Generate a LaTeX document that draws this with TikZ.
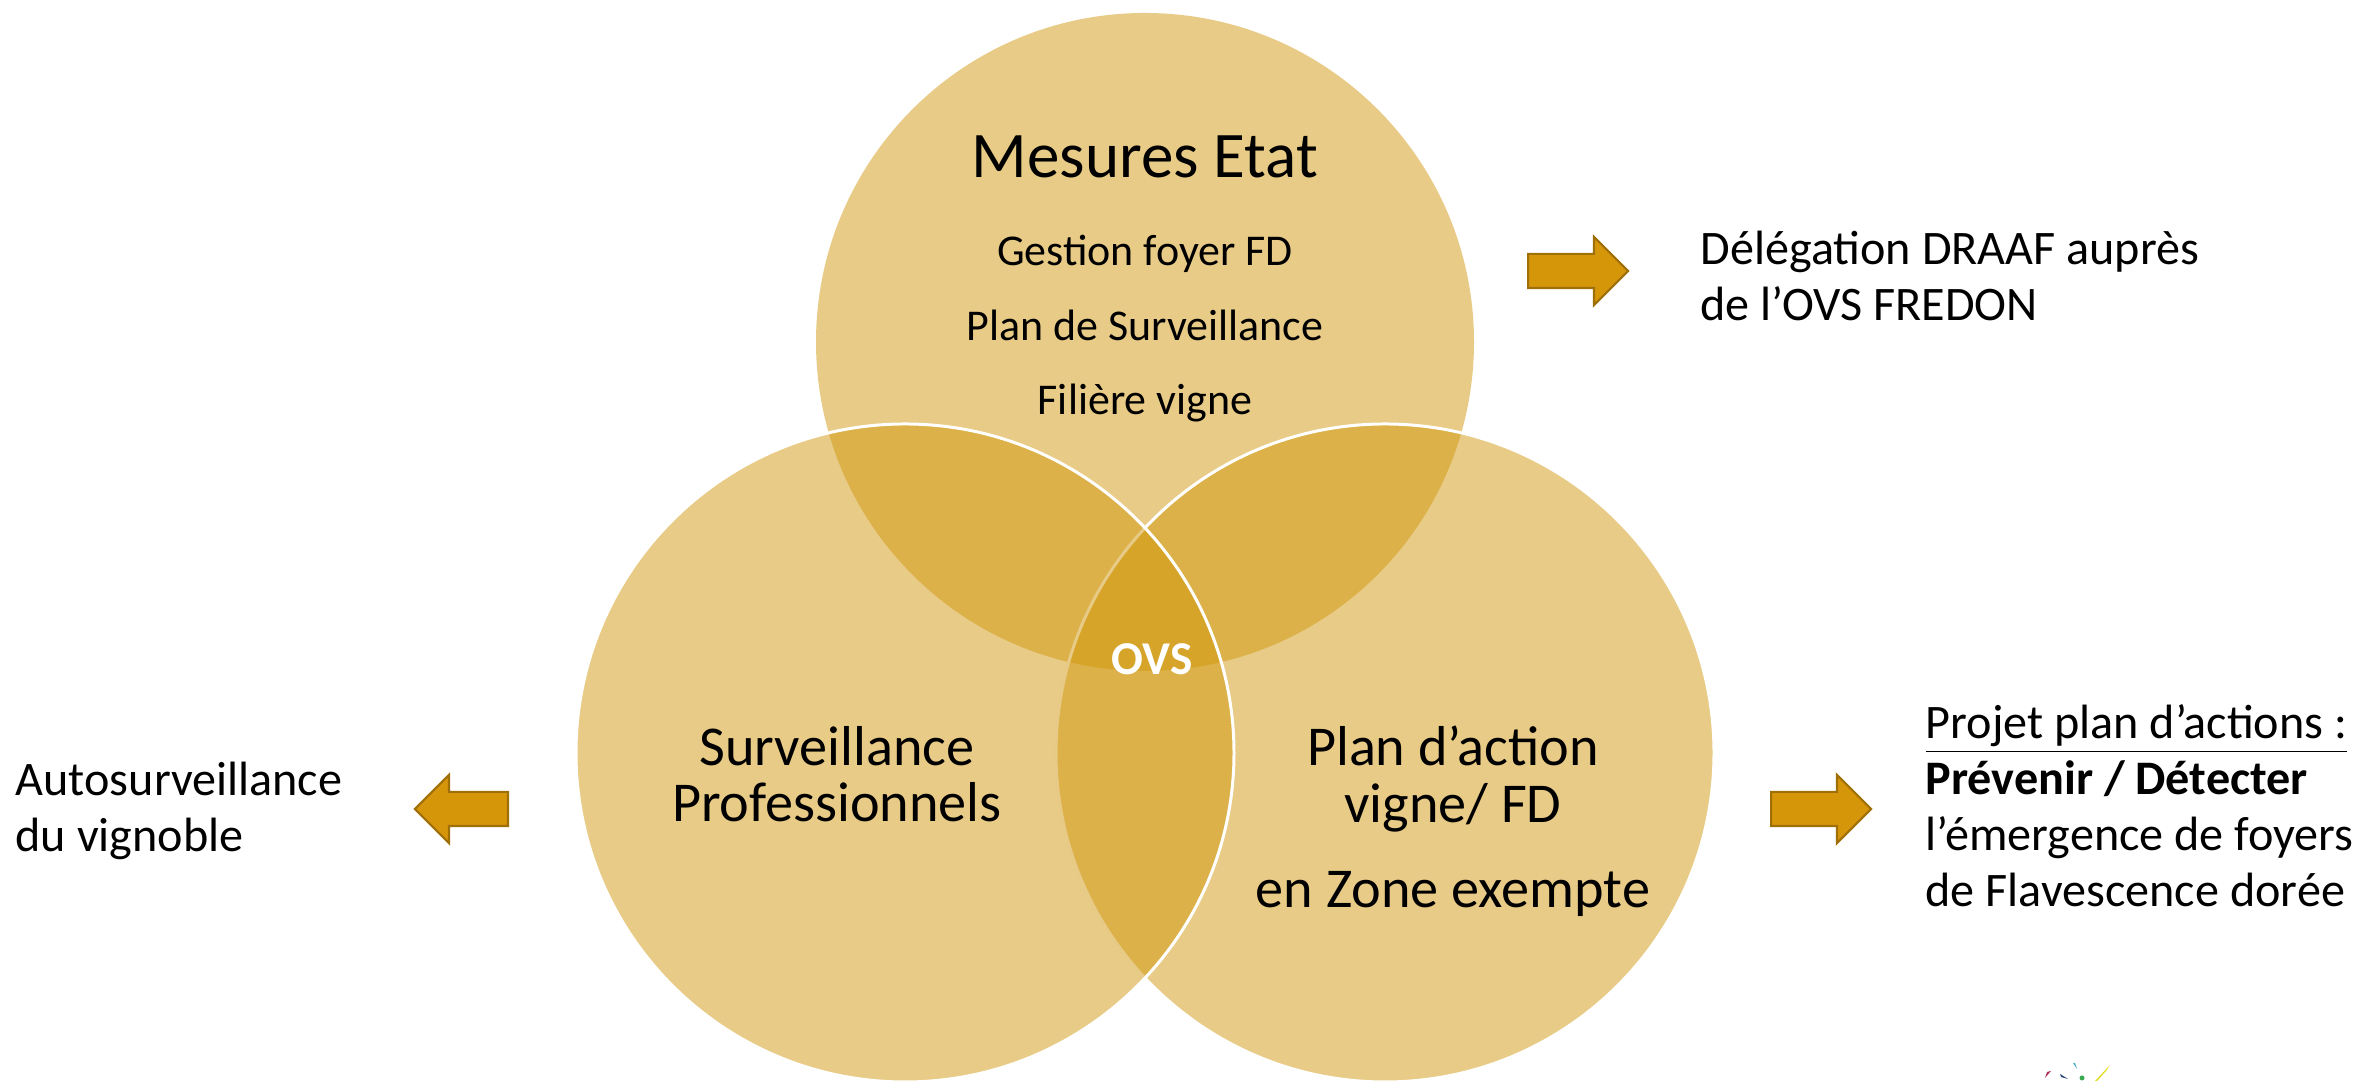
\documentclass[tikz,border=0pt]{standalone}
\usepackage{fontspec}
\setmainfont{Carlito}
\usetikzlibrary{shapes.arrows}

\definecolor{ovsgold}{RGB}{209,151,13}
\definecolor{arrowfill}{RGB}{214,150,10}
\definecolor{arrowdraw}{RGB}{160,112,8}

\begin{document}
\begin{tikzpicture}[
    zone/.style={circle, minimum size=6.58cm, inner sep=0pt, fill=ovsgold, fill opacity=0.5},
    rim/.style={draw=white, line width=0.85pt},
    title/.style={anchor=base, font=\fontsize{18.5}{22}\selectfont},
    body/.style={anchor=base, align=center, font=\fontsize{12.5}{21.3}\selectfont},
    inside/.style={anchor=base, align=center, font=\fontsize{16}{16.2}\selectfont},
    side/.style={anchor=base west, align=left, inner sep=0pt, font=\fontsize{13.7}{16}\selectfont},
    blockarrow/.style={single arrow, single arrow head extend=0.17cm, inner sep=0.16cm, minimum height=1cm, fill=arrowfill, draw=arrowdraw, line width=0.6pt}
    ]
    \useasboundingbox (0,0) rectangle (23.69,10.81);

    % Circles
    \begin{scope}
    \clip (0,0) rectangle (23.69,10.81);
    \node (cEtat) [zone] at (11.45,7.39) {};
    \node (cZone) [zone, rim] at (13.85,3.28) {};
    \node (cPro) [zone, rim] at (9.05,3.28) {};
    \end{scope}

    % Circle texts (multi-line nodes sit on their last line)
    \node (etat) [title] at (11.45,9.03) {Mesures Etat};
    \node (etatlist) [body] at (11.45,6.66) {Gestion foyer FD\\Plan de Surveillance\\Filière vigne};
    \node (pro) [inside] at (8.37,2.59) {Surveillance\\Professionnels};
    \node (zone) [inside] at (14.53,1.73) {Plan d’action\\vigne/ FD\\[0.29cm]en Zone exempte};
    \node (ovs) [anchor=base, text=white, font=\fontsize{13.4}{16}\selectfont\bfseries] at (11.52,4.06) {OVS};

    % Block arrows
    \node (toDraaf) [blockarrow, anchor=tail] at (15.27,8.10) {};
    \node (toAuto) [blockarrow, shape border rotate=180, minimum height=0.93cm, anchor=tail] at (5.09,2.72) {};
    \node (toProjet) [blockarrow, anchor=tail] at (17.70,2.72) {};

    % Side texts
    \node (draaf) [side] at (17.00,7.60) {Délégation DRAAF auprès\\de l’OVS FREDON};
    \node (auto) [side] at (0.15,2.29) {Autosurveillance\\du vignoble};
    \node (projet) [side] at (19.25,1.74) {\underline{Projet plan d’actions :}\\\textbf{Prévenir / Détecter}\\l’émergence de foyers\\de Flavescence dorée};

    % Logo corner
    \fill[fill={rgb,255:red,170;green,50;blue,90}] (20.45,0.03) -- (20.47,0.09) -- (20.51,0.10) -- cycle;
    \fill[fill={rgb,255:red,40;green,70;blue,120}] (20.60,0.07) -- (20.68,0.02) -- (20.61,0.04) -- cycle;
    \fill[fill={rgb,255:red,70;green,170;blue,200}] (20.73,0.18) -- (20.77,0.12) -- (20.75,0.18) -- cycle;
    \fill[fill={rgb,255:red,60;green,170;blue,80}] (20.82,0.03) circle (0.025);
    \fill[fill={rgb,255:red,225;green,220;blue,30}] (20.95,0.00) -- (21.10,0.16) -- (21.06,0.10) -- (20.97,0.00) -- cycle;
\end{tikzpicture}
\end{document}
